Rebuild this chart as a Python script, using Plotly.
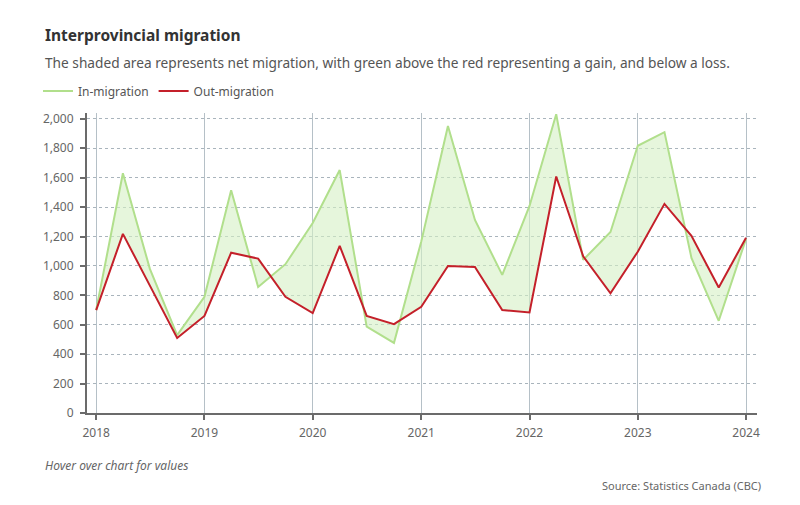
import plotly.graph_objects as go

quarters = [
    "2018-01-01", "2018-04-01", "2018-07-01", "2018-10-01",
    "2019-01-01", "2019-04-01", "2019-07-01", "2019-10-01",
    "2020-01-01", "2020-04-01", "2020-07-01", "2020-10-01",
    "2021-01-01", "2021-04-01", "2021-07-01", "2021-10-01",
    "2022-01-01", "2022-04-01", "2022-07-01", "2022-10-01",
    "2023-01-01", "2023-04-01", "2023-07-01", "2023-10-01",
    "2024-01-01",
]
in_migration = [
    700, 1630, 980, 530,
    790, 1515, 857, 1012,
    1292, 1652, 587, 477,
    1166, 1952, 1313, 939,
    1408, 2032, 1041, 1231,
    1817, 1910, 1055, 627,
    1184,
]
out_migration = [
    700, 1218, 866, 510,
    660, 1090, 1050, 790,
    680, 1137, 660, 604,
    722, 1000, 993, 700,
    684, 1608, 1066, 814,
    1097, 1422, 1205, 853,
    1192,
]
year_ticks = ["2018-01-01", "2019-01-01", "2020-01-01", "2021-01-01",
              "2022-01-01", "2023-01-01", "2024-01-01"]
year_labels = ["2018", "2019", "2020", "2021", "2022", "2023", "2024"]
y_ticks = [0, 200, 400, 600, 800, 1000, 1200, 1400, 1600, 1800, 2000]

FONT = "Noto Sans"
GREEN = "#b1df8c"
RED = "#c4202a"
FILL = "rgba(214,240,196,0.6)"

fig = go.Figure()
# shaded net-migration band (no legend entries)
fig.add_trace(go.Scatter(
    x=quarters, y=out_migration, mode="lines", line=dict(width=0),
    showlegend=False, hoverinfo="skip",
))
fig.add_trace(go.Scatter(
    x=quarters, y=in_migration, mode="lines", line=dict(width=0),
    fill="tonexty", fillcolor=FILL, showlegend=False, hoverinfo="skip",
))
# visible lines
fig.add_trace(go.Scatter(
    x=quarters, y=in_migration, name="In-migration", mode="lines",
    line=dict(color=GREEN, width=2),
))
fig.add_trace(go.Scatter(
    x=quarters, y=out_migration, name="Out-migration", mode="lines",
    line=dict(color=RED, width=2),
))

# page body has an 8px margin: work in reference pixels, shift by 8
OFF = 8
W, H = 800, 505
L = 87 - OFF
T = 113 - OFF
Rx = 757 - OFF
By = 413 - OFF
R = W - Rx
B = H - By
pw, ph = Rx - L, By - T

def px(x):
    return (x - OFF - L) / pw

def py(y):
    return (By - (y - OFF)) / ph

fig.update_layout(
    width=W, height=H,
    margin=dict(l=L, r=R, t=T, b=B),
    paper_bgcolor="white", plot_bgcolor="white",
    font=dict(family=FONT, color="#666", size=12),
    hovermode="x unified",
    legend=dict(
        orientation="h", x=px(38), xanchor="left", y=py(91), yanchor="middle",
        font=dict(size=12, color="#555"), itemwidth=30, tracegroupgap=0,
        traceorder="normal",
    ),
    xaxis=dict(
        type="date", range=["2017-12-01", "2024-02-07"],
        tickvals=year_ticks, ticktext=year_labels,
        showgrid=True, gridcolor="#b5c0c7", gridwidth=1,
        showline=True, linecolor="#6b6b6b", linewidth=2,
        ticks="outside", ticklen=5, tickcolor="#6b6b6b", tickwidth=2,
        ticklabelstandoff=3,
        tickfont=dict(size=12, color="#666"), zeroline=False,
    ),
    yaxis=dict(
        range=[0, 2040], tickvals=y_ticks, tickformat=",d",
        showgrid=True, gridcolor="#a9b4bc", gridwidth=1, griddash="dot",
        showline=True, linecolor="#6b6b6b", linewidth=2,
        ticks="outside", ticklen=5, tickcolor="#6b6b6b", tickwidth=2,
        ticklabelstandoff=4,
        tickfont=dict(size=12, color="#666"), zeroline=False,
    ),
    annotations=[
        dict(text="<b>Interprovincial migration</b>", xref="paper", yref="paper",
             x=px(43), y=py(35), xanchor="left", yanchor="middle", showarrow=False,
             font=dict(size=15.5, color="#333", family=FONT)),
        dict(text="The shaded area represents net migration, with green above the red representing a gain, and below a loss.",
             xref="paper", yref="paper", x=px(43), y=py(63), xanchor="left",
             yanchor="middle", showarrow=False,
             font=dict(size=13.7, color="#555", family=FONT)),
        dict(text="<i>Hover over chart for values</i>", xref="paper", yref="paper",
             x=px(43), y=py(465), xanchor="left", yanchor="middle", showarrow=False,
             font=dict(size=12, color="#666", family=FONT)),
        dict(text="Source: Statistics Canada (CBC)", xref="paper", yref="paper",
             x=px(763), y=py(485), xanchor="right", yanchor="middle", showarrow=False,
             font=dict(size=11, color="#666", family=FONT)),
    ],
)

fig.write_html("out.html")
